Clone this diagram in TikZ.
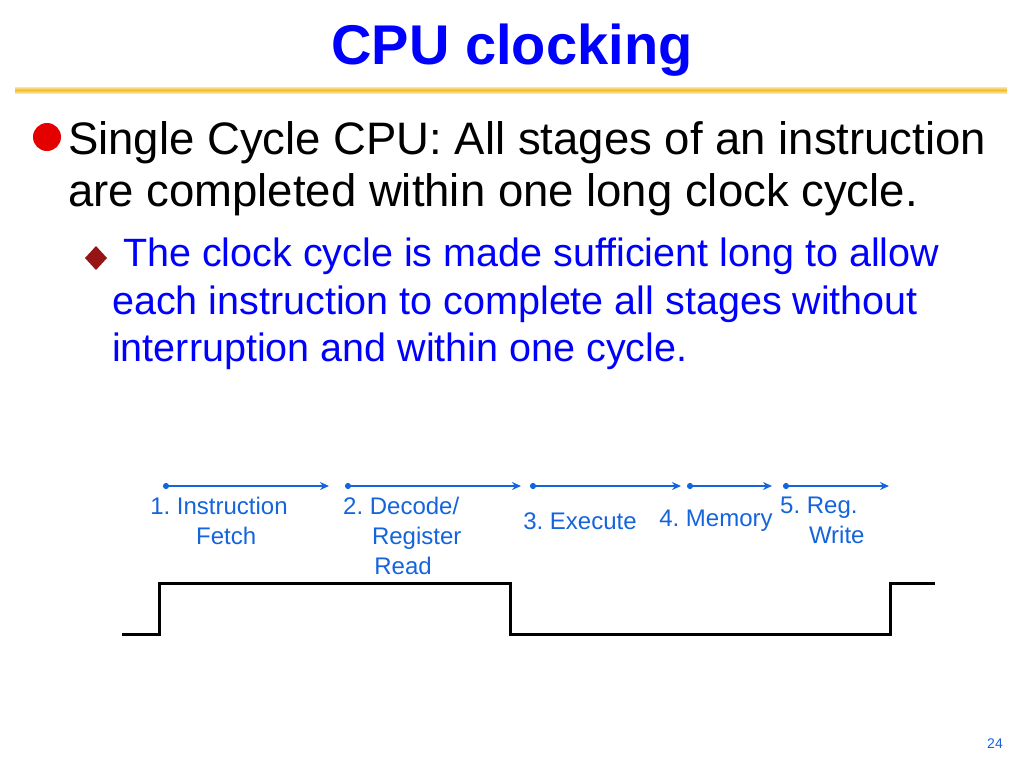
\documentclass[tikz,border=0pt]{standalone}
\usepackage{fontspec}
\setmainfont{Liberation Sans}
\usetikzlibrary{arrows.meta}
\definecolor{tblue}{RGB}{0,0,255}
\definecolor{sblue}{RGB}{20,100,220}
\definecolor{gold}{RGB}{240,190,40}
\definecolor{dred}{RGB}{150,20,20}
\tikzset{
 big/.style={anchor=base west,inner sep=0,font=\fontsize{45.5}{45}\selectfont},
 mid/.style={anchor=base west,inner sep=0,font=\fontsize{39.5}{39}\selectfont,text=tblue},
 lab/.style={inner sep=0,font=\fontsize{24}{30}\selectfont,text=sblue,align=center},
 span/.style={sblue,line width=1.8pt,{Circle[length=6pt]}-{Stealth[length=9pt,width=8pt]}},
 clk/.style={line width=3pt,line join=miter}
}
\begin{document}
\frenchspacing
\begin{tikzpicture}[x=1pt,y=-1pt]
\useasboundingbox (0,0) rectangle (1024,768);
\node[inner sep=0,font=\bfseries\fontsize{56}{56}\selectfont,text=tblue] (title) at (512,50) {CPU clocking};
\shade[top color=gold!40,bottom color=gold!40,middle color=gold] (15,87) rectangle (1007,93);
\fill[red!90!black] (47,137) circle (14);
\node[big] (l1) at (68,154) {Single Cycle CPU: All stages of an instruction};
\node[big] (l2) at (68,206) {are completed within one long clock cycle.};
\fill[dred] (96,246) -- (107,258) -- (96,270) -- (85,258) -- cycle;
\node[mid] (s1) at (123,266) {The clock cycle is made sufficient long to allow};
\node[mid] (s2) at (112,314) {each instruction to complete all stages without};
\node[mid] (s3) at (112,361) {interruption and within one cycle.};
\coordinate (a1) at (163,486); \coordinate (b1) at (329,486);
\coordinate (a2) at (345,486); \coordinate (b2) at (521,486);
\coordinate (a3) at (530,486); \coordinate (b3) at (681,486);
\coordinate (a4) at (687,486); \coordinate (b4) at (772,486);
\coordinate (a5) at (783,486); \coordinate (b5) at (889,486);
\foreach \i in {1,...,5} \draw[span] (a\i) -- (b\i);
\node[lab] (t1) at (219,521) {1. Instruction\\\hspace*{0.6em}Fetch};
\node[lab,align=left,anchor=north west] (t2) at (343,497) {2. Decode/\\\hspace*{1.2em}Register\\\hspace*{1.3em}Read};
\node[lab] (t3) at (580,521) {3. Execute};
\node[lab] (t4) at (716,521) {4. Memory};
\node[lab,align=left,anchor=north west] (t5) at (780,497) {5. Reg.\\\hspace*{1.2em}Write};
\draw[clk] (122,634) -- (159,634) -- (159,583) -- (510,583) -- (510,634) -- (890,634) -- (890,583) -- (935,583);
\node[inner sep=0,font=\rmfamily\fontsize{14}{14}\selectfont,text=sblue] (pg) at (995,744) {24};
\end{tikzpicture}
\end{document}
